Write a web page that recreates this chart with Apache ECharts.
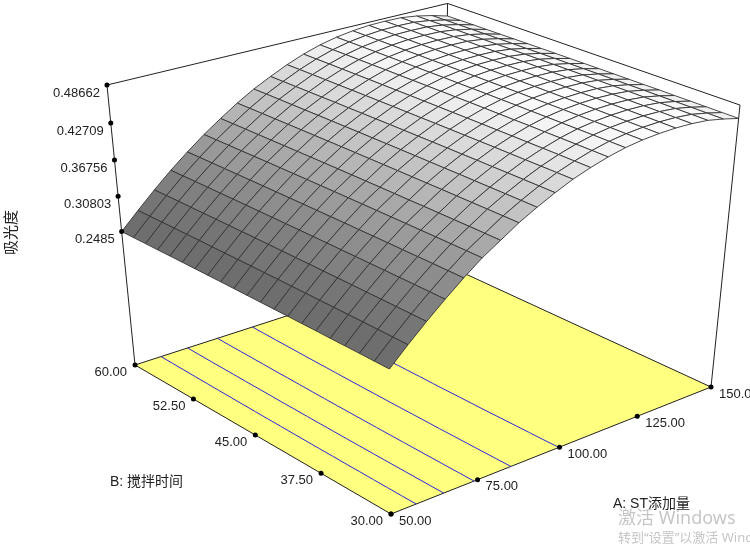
<!DOCTYPE html>
<html>
<head>
<meta charset="utf-8">
<style>
  html, body { margin: 0; padding: 0; background: #fff; }
  #main { width: 750px; height: 544px; }
</style>
<script src="https://cdn.jsdelivr.net/npm/echarts@6/dist/echarts.min.js"></script>
</head>
<body>
<div id="main"></div>
<script>
  // factors and response
  var stAmount = [50, 55, 60, 65, 70, 75, 80, 85, 90, 95, 100, 105, 110, 115, 120, 125, 130, 135, 140, 145, 150];
  var stirTime = [30, 31.5, 33, 34.5, 36, 37.5, 39, 40.5, 42, 43.5, 45, 46.5, 48, 49.5, 51, 52.5, 54, 55.5, 57, 58.5, 60];

  // one row per stirTime, one column per stAmount
  var absorbance = [
    [.2509, .2788, .3050, .3297, .3530, .3745, .3922, .4100, .4249, .4385, .4505, .4600, .4680, .4742, .4781, .4802, .4810, .4802, .4778, .4725, .4660],
    [.2510, .2789, .3051, .3298, .3530, .3745, .3923, .4101, .4251, .4387, .4507, .4602, .4683, .4744, .4783, .4805, .4813, .4805, .4780, .4727, .4662],
    [.2511, .2789, .3051, .3298, .3531, .3745, .3924, .4102, .4252, .4388, .4508, .4605, .4685, .4747, .4786, .4807, .4815, .4807, .4782, .4729, .4663],
    [.2510, .2789, .3051, .3298, .3530, .3745, .3924, .4102, .4253, .4389, .4509, .4606, .4687, .4748, .4787, .4809, .4817, .4809, .4783, .4730, .4664],
    [.2510, .2788, .3050, .3298, .3529, .3744, .3924, .4102, .4253, .4389, .4510, .4607, .4688, .4750, .4789, .4811, .4818, .4811, .4784, .4731, .4665],
    [.2511, .2788, .3051, .3298, .3530, .3744, .3925, .4103, .4255, .4391, .4512, .4609, .4691, .4752, .4791, .4813, .4821, .4813, .4787, .4733, .4667],
    [.2510, .2787, .3050, .3297, .3528, .3743, .3923, .4102, .4254, .4390, .4512, .4610, .4691, .4752, .4792, .4814, .4821, .4814, .4787, .4733, .4667],
    [.2510, .2786, .3049, .3297, .3527, .3742, .3923, .4102, .4255, .4391, .4512, .4611, .4693, .4754, .4793, .4816, .4823, .4816, .4788, .4734, .4667],
    [.2509, .2786, .3049, .3296, .3527, .3741, .3923, .4102, .4255, .4391, .4513, .4612, .4694, .4755, .4795, .4817, .4824, .4817, .4789, .4735, .4668],
    [.2508, .2785, .3047, .3295, .3525, .3739, .3922, .4101, .4255, .4390, .4513, .4612, .4695, .4756, .4795, .4818, .4825, .4818, .4789, .4735, .4668],
    [.2507, .2783, .3046, .3294, .3524, .3738, .3921, .4100, .4255, .4390, .4512, .4613, .4695, .4756, .4796, .4819, .4825, .4819, .4789, .4735, .4668],
    [.2506, .2782, .3045, .3292, .3522, .3736, .3920, .4099, .4254, .4390, .4512, .4613, .4696, .4756, .4796, .4819, .4826, .4819, .4789, .4735, .4667],
    [.2505, .2780, .3043, .3291, .3520, .3734, .3919, .4098, .4254, .4389, .4512, .4613, .4696, .4757, .4796, .4820, .4826, .4820, .4789, .4735, .4667],
    [.2503, .2778, .3041, .3288, .3517, .3731, .3917, .4096, .4252, .4388, .4511, .4612, .4696, .4756, .4797, .4819, .4825, .4819, .4788, .4734, .4666],
    [.2500, .2775, .3038, .3286, .3515, .3729, .3915, .4094, .4251, .4386, .4510, .4612, .4695, .4756, .4795, .4819, .4825, .4819, .4787, .4733, .4665],
    [.2499, .2774, .3037, .3285, .3513, .3727, .3913, .4093, .4250, .4386, .4509, .4612, .4696, .4756, .4796, .4820, .4826, .4820, .4788, .4733, .4664],
    [.2496, .2770, .3034, .3281, .3510, .3723, .3910, .4090, .4248, .4383, .4507, .4610, .4694, .4754, .4794, .4818, .4824, .4818, .4786, .4731, .4662],
    [.2493, .2768, .3031, .3279, .3507, .3720, .3908, .4088, .4246, .4382, .4506, .4609, .4694, .4754, .4794, .4818, .4824, .4818, .4785, .4730, .4661],
    [.2491, .2765, .3029, .3277, .3504, .3717, .3906, .4086, .4245, .4380, .4505, .4609, .4693, .4753, .4793, .4818, .4823, .4818, .4784, .4729, .4660],
    [.2488, .2762, .3025, .3273, .3501, .3714, .3903, .4083, .4243, .4378, .4503, .4607, .4692, .4752, .4792, .4816, .4822, .4816, .4782, .4727, .4657],
    [.2485, .2758, .3022, .3270, .3497, .3710, .3900, .4080, .4240, .4375, .4500, .4605, .4690, .4750, .4790, .4815, .4820, .4815, .4780, .4725, .4655]
  ];

  var contourLevels = [0.29, 0.33, 0.37, 0.41, 0.45];

  var zTicks = [0.2485, 0.30803, 0.36756, 0.42709, 0.48662];
  var zTickLabels = ['0.2485', '0.30803', '0.36756', '0.42709', '0.48662'];
  var aTicks = [50, 75, 100, 125, 150];
  var aTickLabels = ['50.00', '75.00', '100.00', '125.00', '150.00'];
  var bTicks = [30, 37.5, 45, 52.5, 60];
  var bTickLabels = ['30.00', '37.50', '45.00', '52.50', '60.00'];

  var zFloor = 0.0104;
  var zTop = 0.48662;
  var fontFamily = '"Liberation Sans", "Noto Sans CJK SC", sans-serif';
  var markFont = '"Noto Sans", "Noto Sans CJK SC", sans-serif';

  // perspective camera of the 3D box, fitted to the corners of the plot
  function project(a, b, z) {
    var u = (a - 50) / 100;
    var v = (b - 30) / 30;
    var w = (z - zFloor) / (zTop - zFloor);
    var d = 0.1126 * u + 0.1277 * v - 0.1009 * w + 1;
    return [
      (400.06 * u - 238.76 * v - 42.4 * w + 391) / d,
      (-83.4 * u - 102.4 * v - 324.3 * w + 514) / d
    ];
  }

  function grayOf(z) {
    var t = Math.max(0, (z - 0.2485) / (0.4866 - 0.2485));
    var g = Math.round(108 + 150 * Math.pow(t, 1.6));
    g = Math.min(g, 255);
    return 'rgb(' + g + ',' + g + ',' + g + ')';
  }

  // far cells first so the near ones cover them
  function surfaceCells() {
    var cells = [];
    for (var r = stirTime.length - 2; r >= 0; r--) {
      for (var c = stAmount.length - 2; c >= 0; c--) {
        cells.push([c, r]);
      }
    }
    return cells;
  }

  // marching squares on the response grid, drawn on the floor
  function contourSegments() {
    var segs = [];
    contourLevels.forEach(function (level) {
      for (var r = 0; r < stirTime.length - 1; r++) {
        for (var c = 0; c < stAmount.length - 1; c++) {
          var corners = [
            [stAmount[c], stirTime[r], absorbance[r][c]],
            [stAmount[c + 1], stirTime[r], absorbance[r][c + 1]],
            [stAmount[c + 1], stirTime[r + 1], absorbance[r + 1][c + 1]],
            [stAmount[c], stirTime[r + 1], absorbance[r + 1][c]]
          ];
          var hits = [];
          for (var i = 0; i < 4; i++) {
            var p = corners[i];
            var q = corners[(i + 1) % 4];
            if ((p[2] < level) !== (q[2] < level)) {
              var t = (level - p[2]) / (q[2] - p[2]);
              hits.push(p[0] + (q[0] - p[0]) * t, p[1] + (q[1] - p[1]) * t);
            }
          }
          if (hits.length >= 4) {
            segs.push([hits[0], hits[1], hits[2], hits[3]]);
          }
        }
      }
    });
    return segs;
  }

  function frameEdges() {
    return [
      [50, 60, zFloor, 50, 60, zTop],
      [150, 60, zFloor, 150, 60, zTop],
      [150, 30, zFloor, 150, 30, zTop],
      [50, 60, zTop, 150, 60, zTop],
      [150, 60, zTop, 150, 30, zTop]
    ];
  }

  function tickMarks() {
    var marks = [];
    zTicks.forEach(function (z, i) {
      marks.push([50, 60, z, zTickLabels[i], -7, 8, 'right']);
    });
    bTicks.forEach(function (b, i) {
      marks.push([50, b, zFloor, bTickLabels[i], -8, 7, 'right']);
    });
    aTicks.forEach(function (a, i) {
      marks.push([a, 30, zFloor, aTickLabels[i], 8, 7, 'left']);
    });
    return marks;
  }

  function pt(api, a, b, z) {
    return api.coord(project(a, b, z));
  }

  var myChart = echarts.init(document.getElementById('main'), null, { renderer: 'canvas' });

  myChart.setOption({
    backgroundColor: '#fff',
    animation: false,
    grid: { left: 0, right: 0, top: 0, bottom: 0 },
    xAxis: { type: 'value', min: 0, max: 750, show: false },
    yAxis: { type: 'value', min: 0, max: 544, inverse: true, show: false },
    graphic: [
      { type: 'text', rotation: Math.PI / 2, x: 4, y: 255, silent: true,
        style: { text: '吸光度', font: '15px ' + fontFamily, fill: '#222', textVerticalAlign: 'top' } },
      { type: 'text', x: 110, y: 475, silent: true,
        style: { text: 'B: 搅拌时间', font: '14px ' + fontFamily, fill: '#222' } },
      { type: 'text', x: 613, y: 497, silent: true,
        style: { text: 'A: ST添加量', font: '14px ' + fontFamily, fill: '#222' } },
      { type: 'text', x: 618, y: 510, silent: true,
        style: { text: '激活 Windows', font: '18px ' + markFont, fill: '#c6c6c6' } },
      { type: 'text', x: 618, y: 532, silent: true,
        style: { text: '转到“设置”以激活 Windows。', font: '13px ' + markFont, fill: '#c6c6c6' } }
    ],
    series: [
      {
        type: 'custom',
        coordinateSystem: 'cartesian2d',
        silent: true,
        clip: false,
        data: frameEdges(),
        renderItem: function (params, api) {
          var e = frameEdges()[params.dataIndex];
          var p = pt(api, e[0], e[1], e[2]);
          var q = pt(api, e[3], e[4], e[5]);
          return {
            type: 'line',
            shape: { x1: p[0], y1: p[1], x2: q[0], y2: q[1] },
            style: { stroke: '#222', lineWidth: 1 }
          };
        }
      },
      {
        type: 'custom',
        coordinateSystem: 'cartesian2d',
        silent: true,
        clip: false,
        data: [[50, 30]],
        renderItem: function (params, api) {
          return {
            type: 'polygon',
            shape: {
              points: [
                pt(api, 50, 30, zFloor),
                pt(api, 150, 30, zFloor),
                pt(api, 150, 60, zFloor),
                pt(api, 50, 60, zFloor)
              ]
            },
            style: { fill: '#ffff80', stroke: '#222', lineWidth: 1 }
          };
        }
      },
      {
        type: 'custom',
        coordinateSystem: 'cartesian2d',
        silent: true,
        clip: false,
        data: contourSegments(),
        renderItem: function (params, api) {
          var p = pt(api, api.value(0), api.value(1), zFloor);
          var q = pt(api, api.value(2), api.value(3), zFloor);
          return {
            type: 'line',
            shape: { x1: p[0], y1: p[1], x2: q[0], y2: q[1] },
            style: { stroke: '#2a2ad8', lineWidth: 1 }
          };
        }
      },
      {
        type: 'custom',
        coordinateSystem: 'cartesian2d',
        silent: true,
        clip: false,
        data: surfaceCells(),
        renderItem: function (params, api) {
          var c = api.value(0);
          var r = api.value(1);
          var z00 = absorbance[r][c];
          var z10 = absorbance[r][c + 1];
          var z11 = absorbance[r + 1][c + 1];
          var z01 = absorbance[r + 1][c];
          return {
            type: 'polygon',
            shape: {
              points: [
                pt(api, stAmount[c], stirTime[r], z00),
                pt(api, stAmount[c + 1], stirTime[r], z10),
                pt(api, stAmount[c + 1], stirTime[r + 1], z11),
                pt(api, stAmount[c], stirTime[r + 1], z01)
              ]
            },
            style: {
              fill: grayOf((z00 + z10 + z11 + z01) / 4),
              stroke: '#333',
              lineWidth: 0.9
            }
          };
        }
      },
      {
        type: 'custom',
        coordinateSystem: 'cartesian2d',
        silent: true,
        clip: false,
        data: tickMarks().map(function (m, i) { return [i]; }),
        renderItem: function (params, api) {
          var m = tickMarks()[params.dataIndex];
          var p = pt(api, m[0], m[1], m[2]);
          return {
            type: 'group',
            children: [
              {
                type: 'circle',
                shape: { cx: p[0], cy: p[1], r: 2.5 },
                style: { fill: '#000' }
              },
              {
                type: 'text',
                x: p[0] + m[4],
                y: p[1] + m[5],
                style: {
                  text: m[3],
                  font: '13px ' + fontFamily,
                  fill: '#222',
                  align: m[6],
                  verticalAlign: 'middle'
                }
              }
            ]
          };
        }
      }
    ]
  });
</script>
</body>
</html>
